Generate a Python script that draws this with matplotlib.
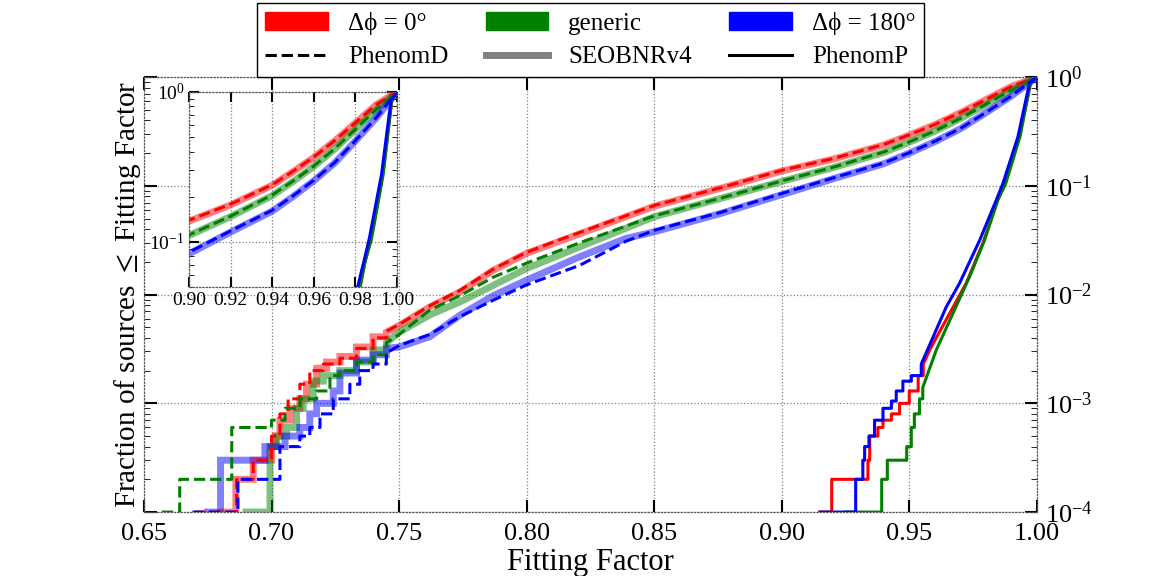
import matplotlib
matplotlib.use("Agg")
import matplotlib.pyplot as plt
from matplotlib.patches import Patch
from matplotlib.lines import Line2D

# values: stair part (low counts) + smooth part
seob_red_step_x = [0.680, 0.686, 0.6928, 0.700, 0.7015, 0.7033, 0.7072, 0.7111, 0.7137, 0.7177, 0.7216, 0.7268, 0.7333, 0.7398, 0.745]
seob_red_step_y = [1e-4, 2e-4, 3e-4, 4e-4, 5e-4, 7e-4, 9e-4, 1.1e-3, 1.5e-3, 2.1e-3, 2.4e-3, 2.7e-3, 3.3e-3, 4.1e-3, 4.5e-3]
seob_red_x = [0.750, 0.762, 0.774, 0.787, 0.800, 0.813, 0.850, 0.876, 0.900, 0.920, 0.940, 0.950, 0.960, 0.970, 0.980, 0.990, 1.0]
seob_red_y = [5.2e-3, 7.7e-3, 0.0106, 0.0168, 0.024, 0.031, 0.065, 0.095, 0.137, 0.176, 0.238, 0.293, 0.365, 0.470, 0.620, 0.820, 1.0]

seob_green_step_x = [0.690, 0.6994, 0.702, 0.7059, 0.7098, 0.7124, 0.7163, 0.7203, 0.7268, 0.7333, 0.7398, 0.745]
seob_green_step_y = [1e-4, 4e-4, 5e-4, 6e-4, 9e-4, 1.1e-3, 1.6e-3, 1.8e-3, 2.0e-3, 2.4e-3, 3.1e-3, 3.6e-3]
seob_green_x = [0.750, 0.762, 0.774, 0.787, 0.800, 0.8208, 0.850, 0.876, 0.900, 0.920, 0.940, 0.950, 0.960, 0.970, 0.980, 0.990, 1.0]
seob_green_y = [4.5e-3, 6.5e-3, 8.6e-3, 0.0122, 0.0174, 0.0275, 0.052, 0.0766, 0.110, 0.147, 0.203, 0.252, 0.318, 0.415, 0.560, 0.760, 1.0]

seob_blue_step_x = [0.675, 0.680, 0.6974, 0.7053, 0.7111, 0.715, 0.7177, 0.7242, 0.7268, 0.7333, 0.7398, 0.745]
seob_blue_step_y = [1e-4, 3e-4, 4e-4, 5e-4, 6e-4, 8e-4, 1.0e-3, 1.3e-3, 1.9e-3, 2.5e-3, 2.8e-3, 3.2e-3]
seob_blue_x = [0.750, 0.762, 0.774, 0.787, 0.800, 0.8208, 0.839, 0.850, 0.876, 0.900, 0.920, 0.940, 0.950, 0.960, 0.970, 0.980, 0.990, 1.0]
seob_blue_y = [3.3e-3, 4.1e-3, 6.5e-3, 9.8e-3, 0.0136, 0.0223, 0.0329, 0.0378, 0.0557, 0.083, 0.116, 0.160, 0.200, 0.255, 0.335, 0.470, 0.670, 1.0]

phd_red_step_x = [0.670, 0.6863, 0.6928, 0.700, 0.7033, 0.7065, 0.7111, 0.715, 0.7203, 0.7268, 0.7333, 0.7398, 0.745]
phd_red_step_y = [1e-4, 2e-4, 3e-4, 5e-4, 8e-4, 1.1e-3, 1.5e-3, 2.0e-3, 2.3e-3, 2.6e-3, 3.2e-3, 4.0e-3, 4.6e-3]
phd_red_x = [0.750, 0.762, 0.774, 0.787, 0.800, 0.813, 0.850, 0.876, 0.900, 0.920, 0.940, 0.950, 0.960, 0.970, 0.980, 0.990, 1.0]
phd_red_y = [5.3e-3, 7.9e-3, 0.011, 0.0172, 0.0245, 0.032, 0.066, 0.096, 0.139, 0.178, 0.240, 0.295, 0.367, 0.472, 0.622, 0.822, 1.0]

phd_green_step_x = [0.657, 0.664, 0.6844, 0.700, 0.7053, 0.7111, 0.7177, 0.7229, 0.7268, 0.7333, 0.7398, 0.745]
phd_green_step_y = [1e-4, 2e-4, 6e-4, 7e-4, 9e-4, 1.1e-3, 1.3e-3, 1.8e-3, 2.0e-3, 2.4e-3, 2.8e-3, 3.6e-3]
phd_green_x = [0.750, 0.762, 0.774, 0.787, 0.800, 0.8208, 0.850, 0.876, 0.900, 0.920, 0.940, 0.950, 0.960, 0.970, 0.980, 0.990, 1.0]
phd_green_y = [4.3e-3, 7.2e-3, 9.8e-3, 0.0145, 0.0195, 0.030, 0.053, 0.077, 0.111, 0.148, 0.205, 0.254, 0.320, 0.417, 0.562, 0.762, 1.0]

phd_blue_step_x = [0.669, 0.6868, 0.7033, 0.7111, 0.715, 0.719, 0.7242, 0.7307, 0.7346, 0.7398, 0.745]
phd_blue_step_y = [1e-4, 2e-4, 4e-4, 5e-4, 6e-4, 8e-4, 1.1e-3, 1.5e-3, 2.0e-3, 2.3e-3, 2.9e-3]
phd_blue_x = [0.750, 0.762, 0.774, 0.787, 0.800, 0.8208, 0.839, 0.850, 0.876, 0.900, 0.920, 0.940, 0.950, 0.960, 0.970, 0.980, 0.990, 1.0]
phd_blue_y = [3.4e-3, 4.3e-3, 6.3e-3, 8.9e-3, 0.0123, 0.0186, 0.031, 0.039, 0.057, 0.085, 0.118, 0.162, 0.202, 0.257, 0.337, 0.472, 0.672, 1.0]

php_red_step_x = [0.915, 0.9196, 0.9338, 0.9345, 0.9377, 0.9397, 0.943, 0.9462, 0.950, 0.9535, 0.9555]
php_red_step_y = [1e-4, 2e-4, 3e-4, 5e-4, 6e-4, 7e-4, 8e-4, 1.0e-3, 1.3e-3, 1.8e-3, 2.3e-3]
php_red_x = [0.958, 0.9658, 0.9723, 0.9788, 0.9847, 0.9875, 0.9932, 0.9975, 1.0]
php_red_y = [3.1e-3, 6.7e-3, 0.0127, 0.0295, 0.074, 0.105, 0.283, 0.875, 1.0]

php_green_step_x = [0.925, 0.9392, 0.9414, 0.949, 0.9508, 0.952, 0.954, 0.9553]
php_green_step_y = [1e-4, 2e-4, 3e-4, 4e-4, 6e-4, 8e-4, 1.1e-3, 1.4e-3]
php_green_x = [0.9606, 0.9671, 0.9736, 0.9795, 0.9847, 0.9878, 0.9934, 0.9975, 1.0]
php_green_y = [3.1e-3, 6.7e-3, 0.0145, 0.0316, 0.074, 0.105, 0.283, 0.875, 1.0]

php_blue_step_x = [0.915, 0.929, 0.9318, 0.9325, 0.9342, 0.9364, 0.9397, 0.943, 0.9449, 0.9475, 0.9508, 0.9547]
php_blue_step_y = [1e-4, 2e-4, 3e-4, 4e-4, 5e-4, 7e-4, 9e-4, 1.05e-3, 1.3e-3, 1.6e-3, 1.8e-3, 2.3e-3]
php_blue_x = [0.9592, 0.9645, 0.9697, 0.9776, 0.9841, 0.9867, 0.9926, 0.9971, 1.0]
php_blue_y = [4.0e-3, 7.7e-3, 0.0127, 0.0316, 0.074, 0.105, 0.283, 0.875, 1.0]

plt.rcParams.update(
    {
        "font.family": ["Liberation Serif", "DejaVu Serif"],
        "mathtext.fontset": "stix",
        "xtick.direction": "in",
        "ytick.direction": "in",
    }
)


def stairs(sx, sy, x, y):
    # corners of the ECDF stairs, then the smooth tail
    px, py = [sx[0]], [sy[0]]
    for i in range(1, len(sx)):
        px += [sx[i], sx[i]]
        py += [sy[i - 1], sy[i]]
    return px + list(x), py + list(y)


curves = [
    ("seob", "red", seob_red_step_x, seob_red_step_y, seob_red_x, seob_red_y),
    ("seob", "green", seob_green_step_x, seob_green_step_y, seob_green_x, seob_green_y),
    ("seob", "blue", seob_blue_step_x, seob_blue_step_y, seob_blue_x, seob_blue_y),
    ("phd", "red", phd_red_step_x, phd_red_step_y, phd_red_x, phd_red_y),
    ("phd", "green", phd_green_step_x, phd_green_step_y, phd_green_x, phd_green_y),
    ("phd", "blue", phd_blue_step_x, phd_blue_step_y, phd_blue_x, phd_blue_y),
    ("php", "red", php_red_step_x, php_red_step_y, php_red_x, php_red_y),
    ("php", "green", php_green_step_x, php_green_step_y, php_green_x, php_green_y),
    ("php", "blue", php_blue_step_x, php_blue_step_y, php_blue_x, php_blue_y),
]


def draw(ax):
    for kind, c, sx, sy, x, y in curves:
        px, py = stairs(sx, sy, x, y)
        if kind == "seob":
            ax.plot(px, py, color=c, lw=5, alpha=0.5, solid_joinstyle="miter")
        elif kind == "phd":
            ax.plot(px, py, color=c, lw=2.2, ls="--")
        else:
            ax.plot(px, py, color=c, lw=2.2)


def style(ax, major_len, size):
    ax.set_yscale("log")
    ax.grid(True, which="major", ls=":", color="0.5", lw=0.9)
    ax.tick_params(which="both", top=True, bottom=True, left=True, right=True, labelsize=size)
    ax.tick_params(which="major", length=major_len, width=1.5)
    ax.tick_params(which="minor", length=major_len * 0.5, width=0.6)
    for s in ax.spines.values():
        s.set_linestyle(":")
        s.set_color("0.35")
        s.set_linewidth(0.9)


fig = plt.figure(figsize=(11.52, 5.76), dpi=100)
ax = fig.add_axes([0.125, 0.111, 0.775, 0.755])
draw(ax)
style(ax, 9, 19)
ax.set_xlim(0.65, 1.0)
ax.set_ylim(1e-4, 1.0)
ax.set_xticks([0.65, 0.70, 0.75, 0.80, 0.85, 0.90, 0.95, 1.00])
ax.tick_params(axis="y", which="both", labelleft=False, labelright=True, pad=6)
ax.tick_params(axis="x", pad=8)
ax.set_xlabel("Fitting Factor", fontsize=22, labelpad=2)
ax.set_ylabel(r"Fraction of sources $\leq$ Fitting Factor", fontsize=21, labelpad=1)

handles = [
    Patch(color="red"),
    Line2D([], [], color="black", ls="--", lw=2.2),
    Patch(color="green"),
    Line2D([], [], color="gray", lw=5),
    Patch(color="blue"),
    Line2D([], [], color="black", lw=2.2),
]
labels = ["Δϕ = 0°", "PhenomD", "generic", "SEOBNRv4", "Δϕ = 180°", "PhenomP"]
leg = ax.legend(
    handles, labels, ncol=3, loc="lower center", bbox_to_anchor=(0.5, 1.0),
    borderaxespad=0.0, fontsize=18, fancybox=False, edgecolor="black", framealpha=1,
    handlelength=2.5, columnspacing=1.5, labelspacing=0.45, borderpad=0.35,
)
leg.get_frame().set_linewidth(1.0)

ins = fig.add_axes([0.164, 0.502, 0.1806, 0.3385])
draw(ins)
style(ins, 7, 14)
ins.set_xlim(0.90, 1.0)
ins.set_ylim(0.05, 1.0)
ins.set_xticks([0.90, 0.92, 0.94, 0.96, 0.98, 1.00])
ins.tick_params(axis="y", which="both", labelleft=True, labelright=False, pad=3)

fig.savefig("out.png", dpi=100)
